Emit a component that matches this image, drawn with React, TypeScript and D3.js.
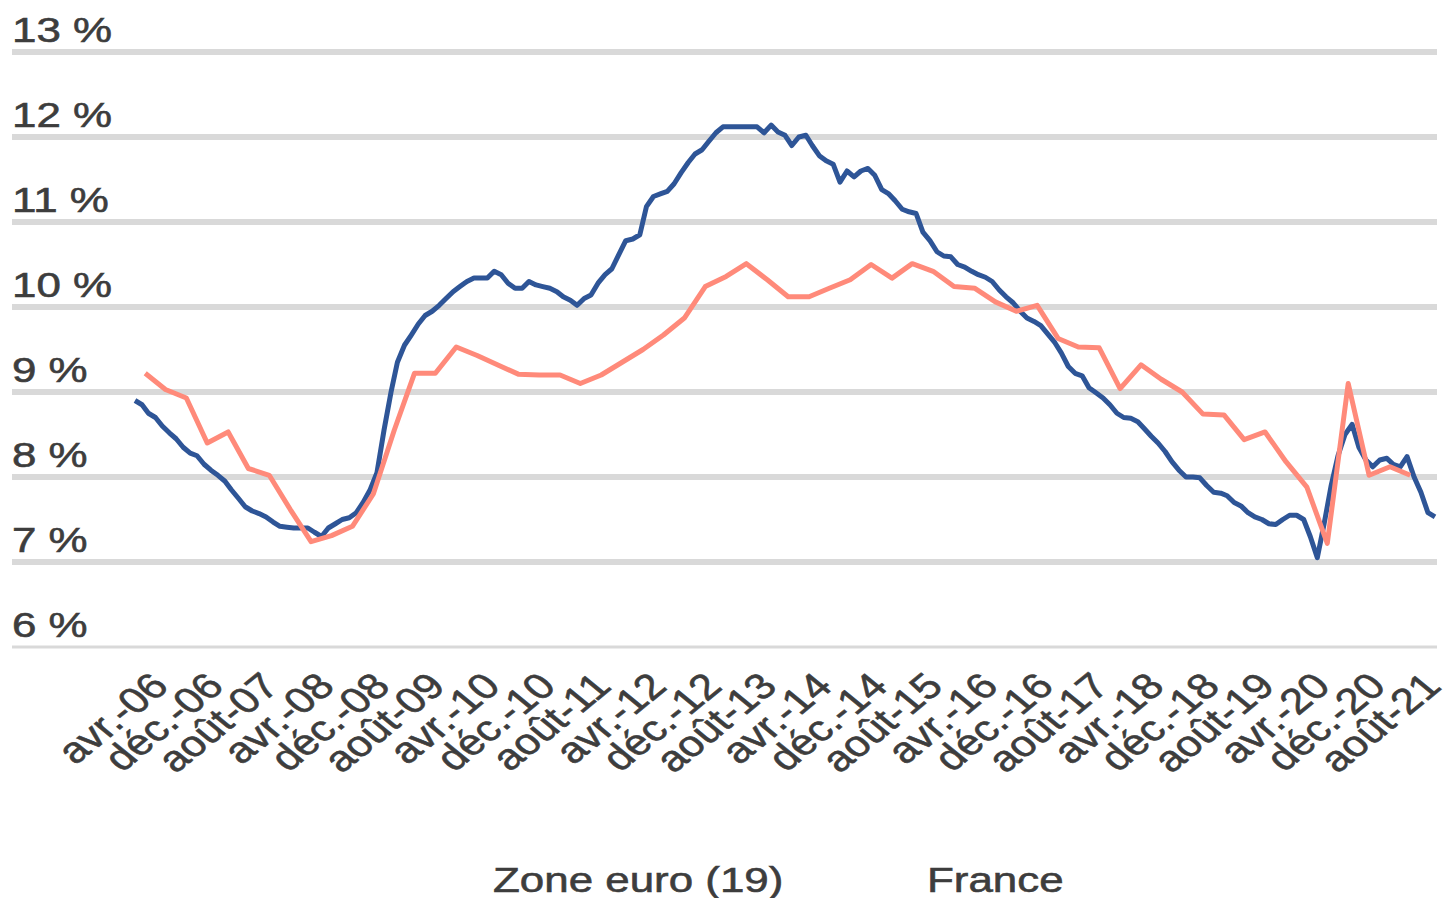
import React from 'react';
import * as d3 from 'd3';

const W = 1445;
const H = 898;

// Y axis
const yTicks = [6, 7, 8, 9, 10, 11, 12, 13];
const yTickLabels = ['6 %', '7 %', '8 %', '9 %', '10 %', '11 %', '12 %', '13 %'];

// X axis labels (every 8 months starting April 2006)
const xTickLabels = [
  'avr.-06', 'déc.-06', 'août-07', 'avr.-08', 'déc.-08', 'août-09', 'avr.-10', 'déc.-10',
  'août-11', 'avr.-12', 'déc.-12', 'août-13', 'avr.-14', 'déc.-14', 'août-15', 'avr.-16',
  'déc.-16', 'août-17', 'avr.-18', 'déc.-18', 'août-19', 'avr.-20', 'déc.-20', 'août-21',
];
const xTickMonths = ['2006-04', '2006-12', '2007-08', '2008-04', '2008-12', '2009-08', '2010-04', '2010-12',
  '2011-08', '2012-04', '2012-12', '2013-08', '2014-04', '2014-12', '2015-08', '2016-04',
  '2016-12', '2017-08', '2018-04', '2018-12', '2019-08', '2020-04', '2020-12', '2021-08'];

// Zone euro (19) — monthly, Jan 2006 .. Sep 2021
const euroStartMonth = '2006-01';
const euroValues = [
  8.9, 8.85, 8.75, 8.7, 8.6, 8.52, 8.45, 8.35, 8.28, 8.25, 8.15, 8.08,
  8.02, 7.95, 7.85, 7.75, 7.65, 7.6, 7.57, 7.53, 7.47, 7.42, 7.41, 7.4,
  7.4, 7.4, 7.35, 7.3, 7.4, 7.45, 7.5, 7.52, 7.58, 7.7, 7.85, 8.05,
  8.55, 9.0, 9.35, 9.55, 9.67, 9.8, 9.9, 9.95, 10.02, 10.1, 10.18, 10.24,
  10.3, 10.34, 10.34, 10.34, 10.42, 10.38, 10.28, 10.22, 10.22, 10.3, 10.26, 10.24,
  10.22, 10.18, 10.12, 10.08, 10.02, 10.1, 10.14, 10.28, 10.38, 10.45, 10.62, 10.78,
  10.8, 10.85, 11.18, 11.3, 11.33, 11.36, 11.45, 11.58, 11.7, 11.8, 11.85, 11.95,
  12.05, 12.12, 12.12, 12.12, 12.12, 12.12, 12.12, 12.05, 12.14, 12.06, 12.02, 11.9,
  12.0, 12.02, 11.9, 11.78, 11.72, 11.68, 11.47, 11.6, 11.53, 11.6, 11.63, 11.55,
  11.38, 11.33, 11.25, 11.15, 11.12, 11.1, 10.88, 10.78, 10.65, 10.6, 10.59, 10.5,
  10.47, 10.42, 10.38, 10.35, 10.3, 10.2, 10.12, 10.05, 9.95, 9.87, 9.83, 9.78,
  9.68, 9.58, 9.46, 9.3, 9.22, 9.19, 9.05, 8.99, 8.93, 8.85, 8.75, 8.7,
  8.69, 8.65, 8.57, 8.48, 8.4, 8.3, 8.18, 8.08, 8.0, 8.0, 7.99, 7.9,
  7.82, 7.81, 7.78, 7.7, 7.66, 7.58, 7.53, 7.5, 7.45, 7.44, 7.5, 7.55,
  7.55, 7.5, 7.3, 7.05, 7.45, 7.9, 8.25, 8.5, 8.62, 8.35, 8.2, 8.12,
  8.2, 8.22, 8.15, 8.12, 8.24, 8.0, 7.82, 7.58, 7.53,
];

// France — quarterly, Q1 2006 .. Q2 2021
const franceStartYear = 2006;
const franceValues = [
  9.22, 9.03, 8.93, 8.4, 8.53, 8.1, 8.02, 7.62, 7.24, 7.31, 7.42, 7.8,
  8.55, 9.22, 9.22, 9.53, 9.43, 9.32, 9.21, 9.2, 9.2, 9.1, 9.2, 9.35,
  9.5, 9.67, 9.87, 10.24, 10.36, 10.51, 10.32, 10.12, 10.12, 10.22, 10.32, 10.5,
  10.34, 10.51, 10.42, 10.24, 10.22, 10.06, 9.95, 10.02, 9.63, 9.53, 9.52, 9.04,
  9.32, 9.15, 9.0, 8.74, 8.73, 8.44, 8.53, 8.18, 7.88, 7.22, 9.1, 8.02,
  8.12, 8.02,
];

const seriesNames = ['Zone euro (19)', 'France'];
const seriesColors = ['#2E5597', '#FF8A7A'];

const FONT = '"Liberation Sans", Arial, Helvetica, sans-serif';
const TEXT_COLOR = '#3d3d3d';
const SX = 1.22;

function parseMonth(s: string): Date {
  const [y, m] = s.split('-').map(Number);
  return new Date(y, m - 1, 1);
}

export default function App() {
  const start = parseMonth(euroStartMonth);
  const euroData = euroValues.map((v, i) => ({ date: new Date(start.getFullYear(), start.getMonth() + i, 1), v }));
  const franceData = franceValues.map((v, k) => ({ date: new Date(franceStartYear, 3 * k + 1, 15), v }));

  const x = d3.scaleTime()
    .domain([euroData[0].date, euroData[euroData.length - 1].date])
    .range([135, 1435]);
  const y = d3.scaleLinear().domain([6, 13]).range([647, 52]);

  const line = d3.line<{ date: Date; v: number }>()
    .x(d => x(d.date))
    .y(d => y(d.v));

  const textProps = {
    fontFamily: FONT,
    fontSize: 36,
    fill: TEXT_COLOR,
    stroke: TEXT_COLOR,
    strokeWidth: 0.6,
  };

  return (
    <svg width={W} height={H} style={{ position: 'absolute', left: 0, top: 0, background: '#fff' }}>
      <rect x={0} y={0} width={W} height={H} fill="#fff" />
      {yTicks.map((t, i) => (
        <g key={t}>
          <line x1={12} x2={1437} y1={y(t)} y2={y(t)} stroke="#D9D9D9" strokeWidth={t === 6 ? 3 : 6} />
          <text transform={`translate(12,${y(t) - 10}) scale(${SX},1)`} {...textProps}>
            {yTickLabels[i]}
          </text>
        </g>
      ))}
      <path d={line(euroData) || ''} fill="none" stroke={seriesColors[0]} strokeWidth={5} strokeLinejoin="round" />
      <path d={line(franceData) || ''} fill="none" stroke={seriesColors[1]} strokeWidth={5} strokeLinejoin="round" />
      {xTickLabels.map((lab, i) => {
        const tx = x(parseMonth(xTickMonths[i])) + 15;
        return (
          <text
            key={lab}
            transform={`translate(${tx},688) scale(${SX},1) rotate(-45)`}
            textAnchor="end"
            {...textProps}
          >
            {lab}
          </text>
        );
      })}
      <text transform={`translate(493,892) scale(${SX},1)`} {...textProps}>
        {seriesNames[0]}
      </text>
      <text transform={`translate(927,892) scale(${SX},1)`} {...textProps}>
        {seriesNames[1]}
      </text>
    </svg>
  );
}
